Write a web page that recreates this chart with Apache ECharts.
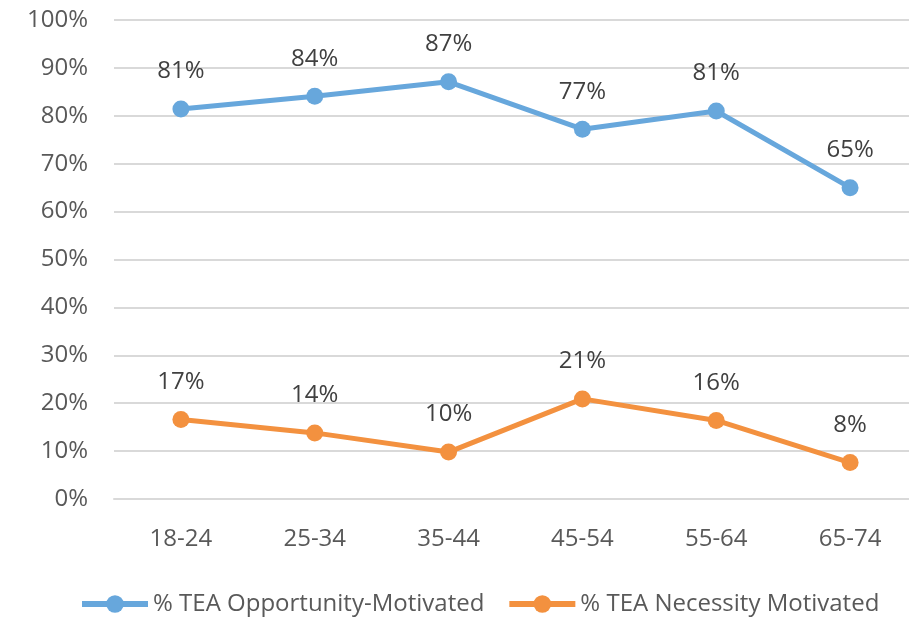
<!DOCTYPE html>
<html style="height: 100%">
<head>
  <meta charset="utf-8">
</head>
<body style="height: 100%; margin: 0; background: #fff">
  <div id="container" style="width: 909px; height: 620px"></div>
  <script src="https://cdn.jsdelivr.net/npm/echarts@6/dist/echarts.min.js"></script>
  <script>
    var ageGroups = ['18-24', '25-34', '35-44', '45-54', '55-64', '65-74'];
    var opportunity = [81.4, 84.1, 87.1, 77.2, 81.0, 65.0];
    var necessity = [16.6, 13.8, 9.8, 20.9, 16.4, 7.6];
    var yTicks = [0, 10, 20, 30, 40, 50, 60, 70, 80, 90, 100];

    var textColor = '#595959';
    var font = '"Open Sans", sans-serif';

    function lineSeries(name, data, color) {
      return {
        name: name,
        type: 'line',
        data: data,
        symbol: 'circle',
        symbolSize: 17,
        itemStyle: { color: color },
        lineStyle: { color: color, width: 5 },
        label: {
          show: true,
          position: 'top',
          distance: 17,
          color: '#404040',
          fontFamily: font,
          fontSize: 24,
          formatter: function (p) { return Math.round(p.value) + '%'; }
        }
      };
    }

    var chart = echarts.init(document.getElementById('container'));
    chart.setOption({
      animation: false,
      textStyle: { fontFamily: font },
      grid: { left: 114, top: 20, width: 803, height: 479, outerBoundsMode: 'none' },
      legend: {
        bottom: -1,
        left: 74,
        itemWidth: 66,
        itemHeight: 22,
        itemGap: 22,
        lineStyle: { width: 6 },
        textStyle: { color: textColor, fontSize: 24, fontFamily: font },
        data: ['% TEA Opportunity-Motivated', '% TEA Necessity Motivated']
      },
      xAxis: {
        type: 'category',
        data: ageGroups,
        axisLine: { lineStyle: { color: '#d9d9d9', width: 2 } },
        axisTick: { show: false },
        axisLabel: { color: textColor, fontSize: 24, margin: 28, fontFamily: font }
      },
      yAxis: {
        type: 'value',
        min: yTicks[0],
        max: yTicks[yTicks.length - 1],
        interval: 10,
        axisLine: { show: false },
        axisTick: { show: false },
        splitLine: { lineStyle: { color: '#d9d9d9', width: 2 } },
        axisLabel: {
          color: textColor, fontSize: 24, margin: 26, fontFamily: font,
          formatter: '{value}%'
        }
      },
      series: [
        lineSeries('% TEA Opportunity-Motivated', opportunity, '#67a7dc'),
        lineSeries('% TEA Necessity Motivated', necessity, '#f3913f')
      ]
    });
  </script>
</body>
</html>
